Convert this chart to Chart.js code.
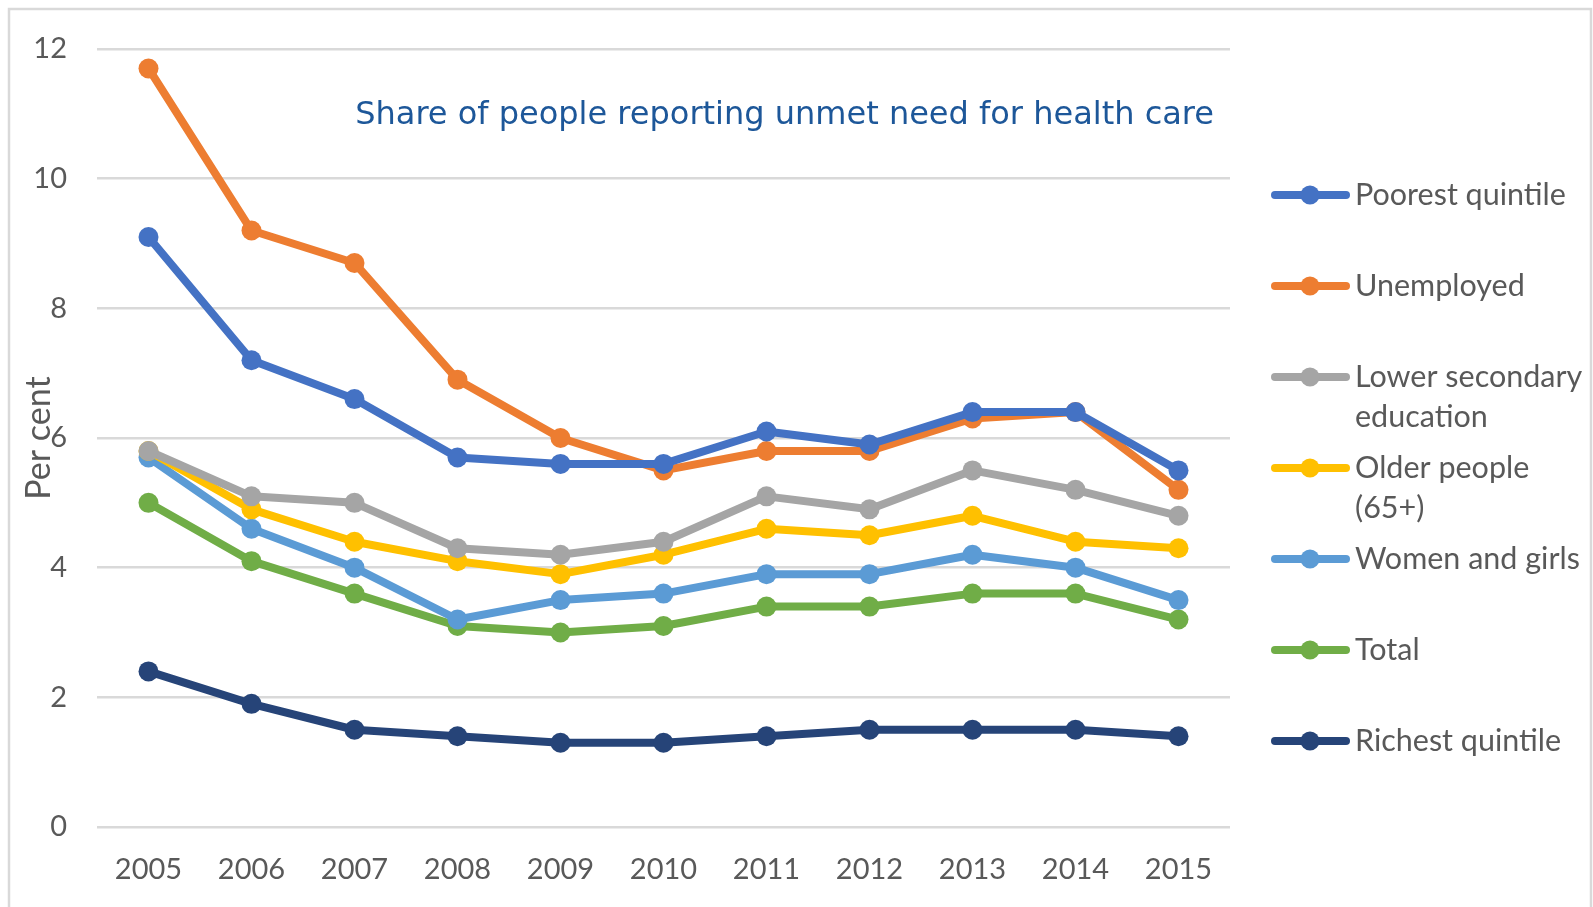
<!DOCTYPE html>
<html>
<head>
<meta charset="utf-8">
<script src="https://cdn.jsdelivr.net/npm/chart.js@4.4.1/dist/chart.umd.min.js"></script>
<style>
  html, body { margin: 0; padding: 0; background: #fff; }
  #wrap { position: relative; width: 1593px; height: 907px; }
</style>
</head>
<body>
<div id="wrap"><canvas id="unmet-chart" width="1593" height="907"></canvas></div>
<script>
    const years = ["2005", "2006", "2007", "2008", "2009", "2010", "2011", "2012", "2013", "2014", "2015"];
    const yTicks = [0, 2, 4, 6, 8, 10, 12];

    const poorest   = [9.1, 7.2, 6.6, 5.7, 5.6, 5.6, 6.1, 5.9, 6.4, 6.4, 5.5];
    const unemployed = [11.7, 9.2, 8.7, 6.9, 6.0, 5.5, 5.8, 5.8, 6.3, 6.4, 5.2];
    const lowerSecondary = [5.8, 5.1, 5.0, 4.3, 4.2, 4.4, 5.1, 4.9, 5.5, 5.2, 4.8];
    const olderPeople = [5.8, 4.9, 4.4, 4.1, 3.9, 4.2, 4.6, 4.5, 4.8, 4.4, 4.3];
    const womenGirls = [5.7, 4.6, 4.0, 3.2, 3.5, 3.6, 3.9, 3.9, 4.2, 4.0, 3.5];
    const total     = [5.0, 4.1, 3.6, 3.1, 3.0, 3.1, 3.4, 3.4, 3.6, 3.6, 3.2];
    const richest   = [2.4, 1.9, 1.5, 1.4, 1.3, 1.3, 1.4, 1.5, 1.5, 1.5, 1.4];

    const seriesNames = [
        ["Poorest quintile"],
        ["Unemployed"],
        ["Lower secondary", "education"],
        ["Older people", "(65+)"],
        ["Women and girls"],
        ["Total"],
        ["Richest quintile"]
    ];
    const seriesData = [poorest, unemployed, lowerSecondary, olderPeople, womenGirls, total, richest];
    const seriesColors = ['#4472C4', '#ED7D31', '#A5A5A5', '#FFC000', '#5B9BD5', '#70AD47', '#264478'];

    const titleText = 'Share of people reporting unmet need for health care';
    const labelFont = 'Lato, "Open Sans", sans-serif';
    const textGrey = '#595959';

    // frame, inner title and the two-line legend drawn by hand
    const extras = {
        id: 'extras',
        afterDraw(chart) {
            const ctx = chart.ctx;
            ctx.save();
            ctx.strokeStyle = '#d9d9d9';
            ctx.lineWidth = 2.5;
            ctx.strokeRect(9, 9, 1582, 905);

            ctx.fillStyle = '#1d5799';
            ctx.font = '32px "DejaVu Sans", Verdana, sans-serif';
            ctx.textAlign = 'right';
            ctx.textBaseline = 'middle';
            ctx.fillText(titleText, 1214, 116);

            ctx.font = '30.5px ' + labelFont;
            ctx.textAlign = 'left';
            chart.data.datasets.forEach((ds, i) => {
                const y = 195 + i * 91;
                ctx.strokeStyle = ds.borderColor;
                ctx.lineWidth = 8;
                ctx.lineCap = 'round';
                ctx.beginPath();
                ctx.moveTo(1275, y);
                ctx.lineTo(1346, y);
                ctx.stroke();
                ctx.fillStyle = ds.borderColor;
                ctx.beginPath();
                ctx.arc(1310, y, 9.5, 0, Math.PI * 2);
                ctx.fill();
                ctx.fillStyle = textGrey;
                seriesNames[i].forEach((line, j) => ctx.fillText(line, 1355, y + j * 40));
            });
            ctx.restore();
        }
    };

    new Chart(document.getElementById('unmet-chart').getContext('2d'), {
        type: 'line',
        data: {
            labels: years,
            datasets: seriesNames.map((name, i) => ({
                label: name.join(' '),
                data: seriesData[i],
                borderColor: seriesColors[i],
                backgroundColor: seriesColors[i],
                borderWidth: 8,
                borderJoinStyle: 'round',
                borderCapStyle: 'round',
                pointRadius: 10,
                pointBorderWidth: 0,
                fill: false
            }))
        },
        options: {
            responsive: false,
            animation: false,
            layout: { padding: { left: 0, right: 363, top: 49, bottom: 0 } },
            plugins: {
                legend: { display: false },
                title: { display: false },
                tooltip: { enabled: false }
            },
            scales: {
                x: {
                    offset: true,
                    grid: { display: false, drawTicks: false },
                    border: { display: false },
                    ticks: { color: textGrey, font: { family: labelFont, size: 29 }, padding: 25, maxRotation: 0 },
                    afterFit: s => { s.height = 80; }
                },
                y: {
                    min: 0,
                    max: 12,
                    afterBuildTicks: s => { s.ticks = yTicks.map(v => ({ value: v })); },
                    grid: { color: '#d9d9d9', lineWidth: 2.5, drawTicks: false },
                    border: { display: false },
                    ticks: { color: textGrey, font: { family: labelFont, size: 29 }, padding: 30 },
                    title: {
                        display: true,
                        text: 'Per cent',
                        color: textGrey,
                        font: { family: labelFont, size: 34 },
                        padding: { top: 19, bottom: 0 }
                    },
                    afterFit: s => { s.width = 97; }
                }
            }
        },
        plugins: [extras]
    });
</script>
</body>
</html>
